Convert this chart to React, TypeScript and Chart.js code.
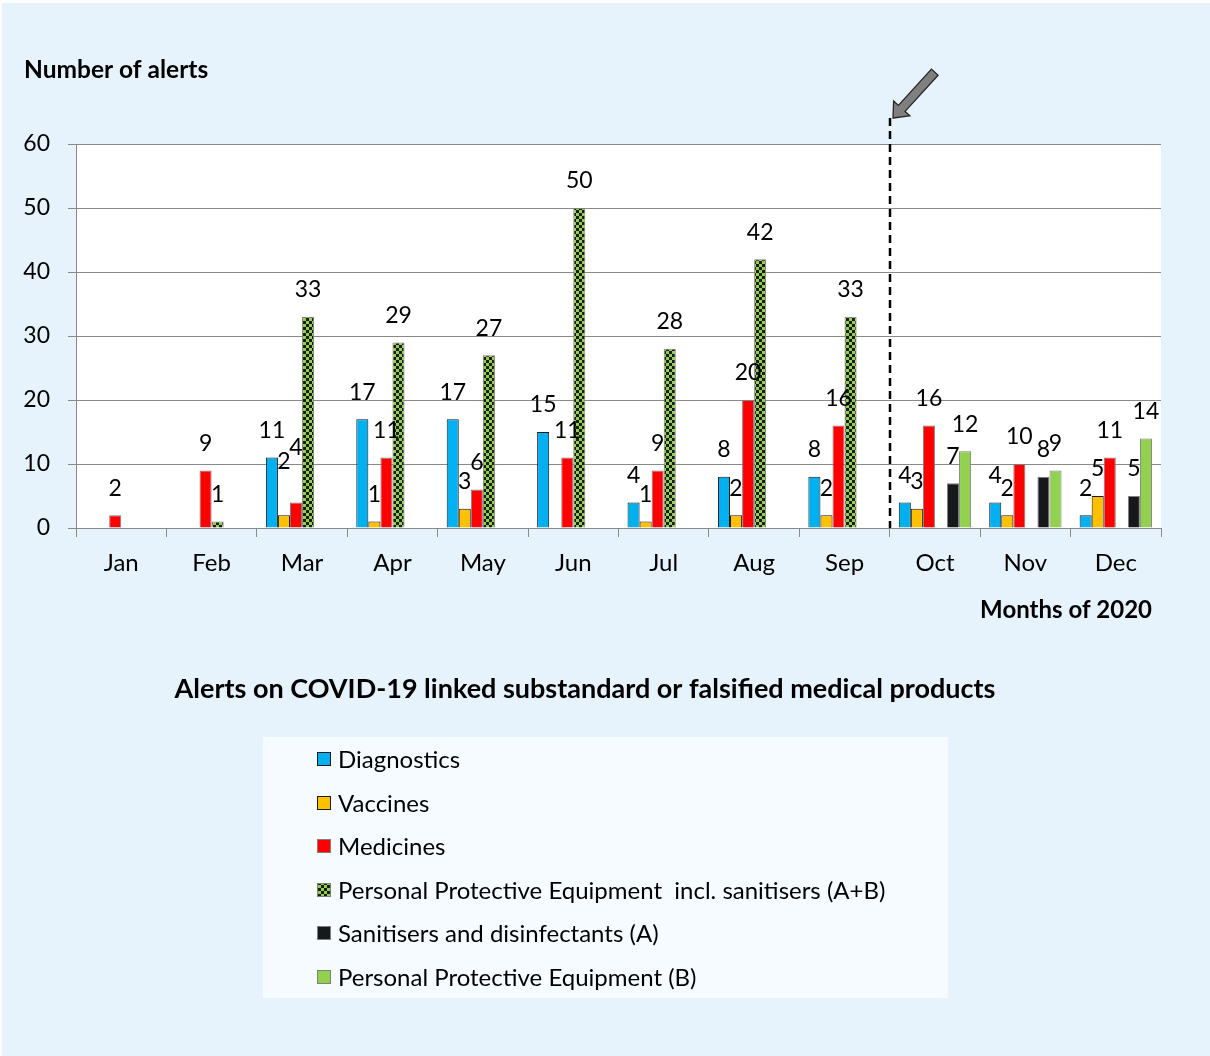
import React, { useEffect, useRef } from "react";
import { Chart, registerables } from "chart.js";

Chart.register(...registerables);

const months = ["Jan", "Feb", "Mar", "Apr", "May", "Jun", "Jul", "Aug", "Sep", "Oct", "Nov", "Dec"];
const diagnostics = [null, null, 11, 17, 17, 15, 4, 8, 8, 4, 4, 2];
const vaccines = [null, null, 2, 1, 3, null, 1, 2, 2, 3, 2, 5];
const medicines = [2, 9, 4, 11, 6, 11, 9, 20, 16, 16, 10, 11];
const ppeTotal = [null, 1, 33, 29, 27, 50, 28, 42, 33, null, null, null];
const sanitisers = [null, null, null, null, null, null, null, null, null, 7, 8, 5];
const ppeB = [null, null, null, null, null, null, null, null, null, 12, 9, 14];
const seriesNames = [
  "Diagnostics",
  "Vaccines",
  "Medicines",
  "Personal Protective Equipment  incl. sanitisers (A+B)",
  "Sanitisers and disinfectants (A)",
  "Personal Protective Equipment (B)",
];
const yTicks = [0, 10, 20, 30, 40, 50, 60];
// manual label lifts (dataset index, category index, extra px up)
const labelLifts = [
  [1, 2, 27],
  [2, 2, 28],
];

const FONT = "Lato";
const W = 1210;
const H = 1056;

function makeChecker(): CanvasPattern | string {
  const c = document.createElement("canvas");
  c.width = 6;
  c.height = 6;
  const g = c.getContext("2d");
  if (!g) return "#92d050";
  g.fillStyle = "#92d050";
  g.fillRect(0, 0, 6, 6);
  g.fillStyle = "#1c1c1c";
  g.fillRect(0, 0, 3, 3);
  g.fillRect(3, 3, 3, 3);
  const p = g.createPattern(c, "repeat");
  return p || "#92d050";
}

export default function App() {
  const ref = useRef<HTMLCanvasElement>(null);

  useEffect(() => {
    const canvas = ref.current;
    if (!canvas) return;
    const checker = makeChecker();

    const bgPlugin = {
      id: "bgPlugin",
      beforeDraw(chart: any) {
        const { ctx, chartArea } = chart;
        ctx.save();
        ctx.fillStyle = "#ffffff";
        ctx.fillRect(0, 0, W, H);
        ctx.fillStyle = "#e6f3fc";
        ctx.fillRect(2, 3, W - 2, H - 3);
        ctx.fillStyle = "#f6fbff";
        ctx.fillRect(263, 737, 685, 261);
        ctx.fillStyle = "#ffffff";
        ctx.fillRect(chartArea.left, chartArea.top, chartArea.right - chartArea.left, chartArea.bottom - chartArea.top);
        ctx.restore();
      },
    };

    const overlayPlugin = {
      id: "overlayPlugin",
      afterDatasetsDraw(chart: any) {
        const { ctx } = chart;
        ctx.save();
        ctx.font = `23px ${FONT}`;
        ctx.fillStyle = "#000";
        ctx.textAlign = "center";
        ctx.textBaseline = "middle";
        chart.data.datasets.forEach((ds: any, di: number) => {
          const meta = chart.getDatasetMeta(di);
          meta.data.forEach((el: any, i: number) => {
            const v = ds.data[i];
            if (v === null || v === undefined) return;
            let lift = 27;
            labelLifts.forEach((l) => {
              if (l[0] === di && l[1] === i) lift += l[2];
            });
            ctx.fillText(String(v), el.x, el.y - lift);
          });
        });
        ctx.restore();
      },
      afterDraw(chart: any) {
        const { ctx, chartArea, scales } = chart;
        const xs = scales.x;
        ctx.save();
        // dashed separator between Sep and Oct
        const sepX = Math.round((xs.getPixelForValue(8) + xs.getPixelForValue(9)) / 2);
        ctx.strokeStyle = "#000";
        ctx.lineWidth = 2.5;
        ctx.setLineDash([8, 5]);
        ctx.beginPath();
        ctx.moveTo(sepX, 118);
        ctx.lineTo(sepX, chartArea.bottom);
        ctx.stroke();
        ctx.setLineDash([]);

        // arrow
        const tipX = sepX + 3;
        const tipY = 118;
        const ang = Math.atan2(-45, 41);
        const ux = Math.cos(ang);
        const uy = Math.sin(ang);
        const px = -uy;
        const py = ux;
        const headLen = 13;
        const headHalf = 11;
        const shaftHalf = 4.5;
        const len = 62;
        const bx = tipX + ux * headLen;
        const by = tipY + uy * headLen;
        const tx = tipX + ux * len;
        const ty = tipY + uy * len;
        ctx.beginPath();
        ctx.moveTo(tipX, tipY);
        ctx.lineTo(bx + px * headHalf, by + py * headHalf);
        ctx.lineTo(bx + px * shaftHalf, by + py * shaftHalf);
        ctx.lineTo(tx + px * shaftHalf, ty + py * shaftHalf);
        ctx.lineTo(tx - px * shaftHalf, ty - py * shaftHalf);
        ctx.lineTo(bx - px * shaftHalf, by - py * shaftHalf);
        ctx.lineTo(bx - px * headHalf, by - py * headHalf);
        ctx.closePath();
        ctx.fillStyle = "#7f7f7f";
        ctx.fill();
        ctx.strokeStyle = "#262626";
        ctx.lineWidth = 1.3;
        ctx.stroke();

        // texts
        ctx.fillStyle = "#000";
        ctx.textBaseline = "middle";
        ctx.font = `bold 24.5px ${FONT}`;
        ctx.textAlign = "left";
        ctx.fillText("Number of alerts", 24, 70);
        ctx.font = `bold 24px ${FONT}`;
        ctx.textAlign = "right";
        ctx.fillText("Months of 2020", 1152, 610);
        ctx.textAlign = "center";
        ctx.font = `bold 27px ${FONT}`;
        ctx.fillText("Alerts on COVID-19 linked substandard or falsified medical products", 585, 689);

        // legend
        const rows = [759, 803, 846, 890, 933, 977];
        ctx.font = `24px ${FONT}`;
        ctx.textAlign = "left";
        chart.data.datasets.forEach((ds: any, i: number) => {
          const cy = rows[i];
          ctx.fillStyle = ds.backgroundColor;
          ctx.fillRect(317, cy - 7, 14, 14);
          ctx.strokeStyle = ds.borderColor;
          ctx.lineWidth = 1;
          ctx.strokeRect(317.5, cy - 6.5, 13, 13);
          ctx.fillStyle = "#000";
          ctx.fillText(seriesNames[i], 338, cy + 1);
        });
        ctx.restore();
      },
    };

    const mk = (i: number, data: (number | null)[], bg: any, border: string) => ({
      label: seriesNames[i],
      data,
      backgroundColor: bg,
      borderColor: border,
      borderWidth: 1,
    });

    const chart = new Chart(canvas, {
      type: "bar",
      data: {
        labels: months,
        datasets: [
          mk(0, diagnostics, "#00b0f0", "#1a1a1a"),
          mk(1, vaccines, "#ffc000", "#1a1a1a"),
          mk(2, medicines, "#ff0000", "#7f7f7f"),
          mk(3, ppeTotal, checker, "#7f7f7f"),
          mk(4, sanitisers, "#17181c", "#7f7f7f"),
          mk(5, ppeB, "#92d050", "#7f7f7f"),
        ] as any,
      },
      options: {
        responsive: false,
        animation: false,
        devicePixelRatio: 1,
        layout: { padding: { top: 144, right: 49, bottom: 0, left: 0 } },
        datasets: { bar: { categoryPercentage: 0.8, barPercentage: 1.0 } },
        plugins: {
          legend: { display: false },
          title: { display: false },
          tooltip: { enabled: false },
        },
        scales: {
          x: {
            afterFit(s: any) {
              s.height = 528;
            },
            grid: {
              display: true,
              drawOnChartArea: false,
              drawTicks: true,
              tickLength: 9,
              color: "#8a8a8a",
              offset: true,
            },
            border: { display: true, color: "#8a8a8a", width: 1 },
            ticks: { font: { family: FONT, size: 24 }, color: "#000", padding: 12 },
          },
          y: {
            min: 0,
            max: 60,
            afterFit(s: any) {
              s.width = 76;
            },
            afterBuildTicks(s: any) {
              s.ticks = yTicks.map((v) => ({ value: v }));
            },
            grid: {
              display: true,
              drawTicks: true,
              tickLength: 8,
              color: "#8a8a8a",
            },
            border: { display: true, color: "#8a8a8a", width: 1 },
            ticks: { font: { family: FONT, size: 23 }, color: "#000", padding: 18 },
          },
        },
      },
      plugins: [bgPlugin, overlayPlugin],
    } as any);

    return () => chart.destroy();
  }, []);

  return (
    <div style={{ position: "absolute", left: 0, top: 0, width: W, height: H }}>
      <canvas ref={ref} width={W} height={H} style={{ width: W, height: H, display: "block" }} />
    </div>
  );
}
